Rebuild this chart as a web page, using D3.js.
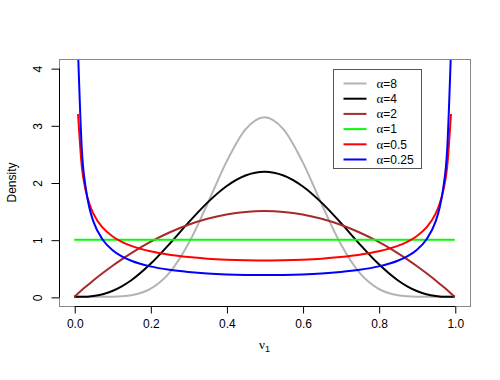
<!DOCTYPE html>
<html>
<head>
<meta charset="utf-8">
<script src="https://cdn.jsdelivr.net/npm/d3@7"></script>
<style>
  body { margin: 0; background: #fff; }
  text { font-family: "Liberation Sans", Arial, sans-serif; font-size: 12px; fill: #000; }
  .greek { font-family: "Liberation Serif", "DejaVu Serif", serif; }
</style>
</head>
<body>
<div id="chart"></div>
<script>
// grid of x values, densities at each x
const xs = [0, 0.01, 0.02, 0.03, 0.04, 0.05, 0.075, 0.1, 0.125, 0.15, 0.2, 0.25, 0.3, 0.35, 0.4, 0.45,
  0.5, 0.55, 0.6, 0.65, 0.7, 0.75, 0.8, 0.85, 0.875, 0.9, 0.925, 0.95, 0.96, 0.97, 0.98, 0.99, 1];

const dens8 = [0, 0, 0, 0, 0, 0.00003, 0.0004, 0.0025, 0.0096, 0.0282, 0.138, 0.419, 0.927, 1.624, 2.361, 2.929,
  3.142, 2.929, 2.361, 1.624, 0.927, 0.419, 0.138, 0.0282, 0.0096, 0.0025, 0.0004, 0.00003, 0, 0, 0, 0, 0];
const dens4 = [0, 0.0001, 0.0011, 0.0035, 0.0079, 0.015, 0.0467, 0.102, 0.183, 0.290, 0.573, 0.923, 1.297, 1.648, 1.935, 2.123,
  2.188, 2.123, 1.935, 1.648, 1.297, 0.923, 0.573, 0.290, 0.183, 0.102, 0.0467, 0.015, 0.0079, 0.0035, 0.0011, 0.0001, 0];
const dens2 = [0, 0.059, 0.118, 0.175, 0.230, 0.285, 0.416, 0.54, 0.656, 0.765, 0.96, 1.125, 1.26, 1.365, 1.44, 1.485,
  1.5, 1.485, 1.44, 1.365, 1.26, 1.125, 0.96, 0.765, 0.656, 0.54, 0.416, 0.285, 0.230, 0.175, 0.118, 0.059, 0];
const dens1 = [1, 1, 1, 1, 1, 1, 1, 1, 1, 1, 1, 1, 1, 1, 1, 1,
  1, 1, 1, 1, 1, 1, 1, 1, 1, 1, 1, 1, 1, 1, 1, 1, 1];
const dens05 = [null, 3.199, 2.274, 1.866, 1.624, 1.461, 1.209, 1.061, 0.963, 0.891, 0.796, 0.735, 0.695, 0.667, 0.650, 0.640,
  0.637, 0.640, 0.650, 0.667, 0.695, 0.735, 0.796, 0.891, 0.963, 1.061, 1.209, 1.461, 1.624, 1.866, 2.274, 3.199, null];
const dens025 = [null, 4.296, 2.574, 1.914, 1.554, 1.325, 0.998, 0.821, 0.709, 0.632, 0.533, 0.473, 0.435, 0.409, 0.393, 0.384,
  0.381, 0.384, 0.393, 0.409, 0.435, 0.473, 0.533, 0.632, 0.709, 0.821, 0.998, 1.325, 1.554, 1.914, 2.574, 4.296, null];

const alphas = ["8", "4", "2", "1", "0.5", "0.25"];
const colours = ["#b3b3b3", "#000000", "#a52a2a", "#00ff00", "#ff0000", "#0000ff"];
const seriesValues = [dens8, dens4, dens2, dens1, dens05, dens025];

const xTicks = [0, 0.2, 0.4, 0.6, 0.8, 1];
const yTicks = [0, 1, 2, 3, 4];

const width = 500, height = 380;
const margin = { top: 59, right: 30, bottom: 74, left: 59 };
const innerW = width - margin.left - margin.right;
const innerH = height - margin.top - margin.bottom;

const svg = d3.select("#chart").append("svg")
  .attr("width", width)
  .attr("height", height);

// R style: limits extended by 4%
const xScale = d3.scaleLinear().domain([-0.04, 1.04]).range([margin.left, margin.left + innerW]);
const yScale = d3.scaleLinear().domain([-0.16, 4.16]).range([margin.top + innerH, margin.top]);

svg.append("clipPath").attr("id", "plotClip")
  .append("rect")
  .attr("x", margin.left).attr("y", margin.top)
  .attr("width", innerW).attr("height", innerH);

// curves
const plot = svg.append("g").attr("clip-path", "url(#plotClip)");
const line = d3.line()
  .defined((d) => d[1] !== null)
  .x((d) => xScale(d[0]))
  .y((d) => yScale(d[1]))
  .curve(d3.curveMonotoneX);

seriesValues.forEach((vals, i) => {
  plot.append("path")
    .datum(xs.map((x, j) => [x, vals[j]]))
    .attr("fill", "none")
    .attr("stroke", colours[i])
    .attr("stroke-width", 2)
    .attr("d", line);
});

// box
svg.append("rect")
  .attr("x", margin.left + 0.5).attr("y", margin.top + 0.5)
  .attr("width", innerW).attr("height", innerH)
  .attr("fill", "none")
  .attr("stroke", "#888");

// axes
const xAxis = d3.axisBottom(xScale).tickValues(xTicks).tickSize(7).tickPadding(4)
  .tickFormat(d3.format(".1f"));
const xAxisG = svg.append("g")
  .attr("transform", `translate(0.5,${margin.top + innerH + 0.5})`)
  .call(xAxis);
xAxisG.select(".domain").attr("d", `M${xScale(0)},0H${xScale(1)}`);
xAxisG.selectAll("text").style("font-size", "12px").attr("dy", "0.85em");

const yAxis = d3.axisLeft(yScale).tickValues(yTicks).tickSize(8).tickFormat(d3.format("d"));
const yAxisG = svg.append("g")
  .attr("transform", `translate(${margin.left + 0.5},0.5)`)
  .call(yAxis);
yAxisG.select(".domain").attr("d", `M0,${yScale(0)}V${yScale(4)}`);
yAxisG.selectAll("text")
  .attr("x", null).attr("dy", null)
  .attr("text-anchor", "middle")
  .style("font-size", "12px")
  .attr("transform", "translate(-18,0) rotate(-90)");

// axis titles
svg.append("text")
  .attr("transform", `translate(16,${margin.top + innerH / 2}) rotate(-90)`)
  .attr("text-anchor", "middle")
  .text("Density");

const xTitle = svg.append("text")
  .attr("x", xScale(0.5))
  .attr("y", 349)
  .attr("text-anchor", "middle");
xTitle.append("tspan").attr("class", "greek").style("font-size", "13px").text("ν");
xTitle.append("tspan").attr("dy", 3).style("font-size", "9px").text("1");

// legend
const legend = svg.append("g").attr("transform", "translate(333.5,69.5)");
legend.append("rect")
  .attr("width", 88).attr("height", 99)
  .attr("fill", "#fff")
  .attr("stroke", "#555");

const rowY = d3.scalePoint().domain(alphas).range([14, 90]);
alphas.forEach((a, i) => {
  const gRow = legend.append("g").attr("transform", `translate(0,${rowY(a)})`);
  gRow.append("line")
    .attr("x1", 10).attr("x2", 33)
    .attr("stroke", colours[i]).attr("stroke-width", 2);
  const t = gRow.append("text").attr("x", 43).attr("dy", "0.35em");
  t.append("tspan").attr("class", "greek").style("font-size", "13px").text("α");
  t.append("tspan").text("=" + a);
});
</script>
</body>
</html>
